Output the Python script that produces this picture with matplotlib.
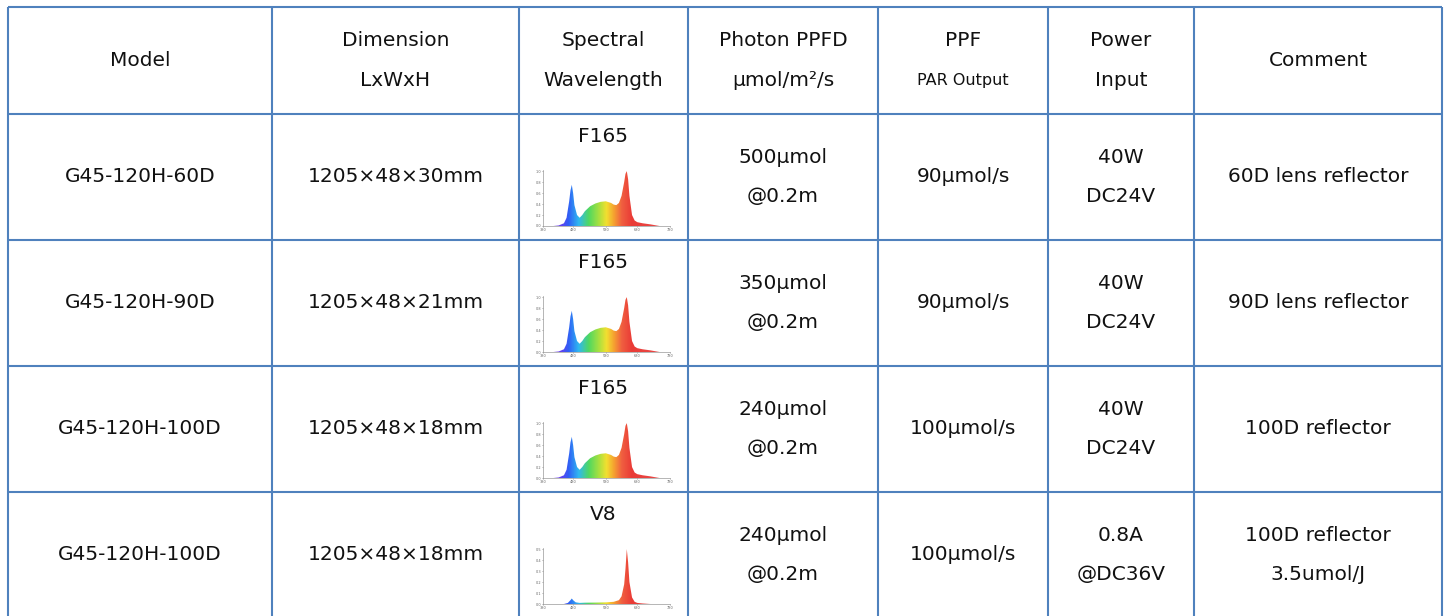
import matplotlib.pyplot as plt
import numpy as np
from matplotlib.colors import LinearSegmentedColormap

# table content
headers = [["Model"], ["Dimension", "LxWxH"], ["Spectral", "Wavelength"],
           ["Photon PPFD", "μmol/m²/s"], ["PPF", "PAR Output"], ["Power", "Input"],
           ["Comment"]]
models = ["G45-120H-60D", "G45-120H-90D", "G45-120H-100D", "G45-120H-100D"]
dimensions = ["1205×48×30mm", "1205×48×21mm", "1205×48×18mm", "1205×48×18mm"]
spectra = ["F165", "F165", "F165", "V8"]
ppfd = [["500μmol", "@0.2m"], ["350μmol", "@0.2m"], ["240μmol", "@0.2m"], ["240μmol", "@0.2m"]]
ppf = ["90μmol/s", "90μmol/s", "100μmol/s", "100μmol/s"]
power = [["40W", "DC24V"], ["40W", "DC24V"], ["40W", "DC24V"], ["0.8A", "@DC36V"]]
comments = [["60D lens reflector"], ["90D lens reflector"], ["100D reflector"],
            ["100D reflector", "3.5umol/J"]]

# spectrum curves read from the small thumbnails
f165_wl = [380, 400, 420, 430, 440, 445, 450, 455, 460, 470, 480, 490, 500, 520, 540,
           560, 580, 600, 610, 620, 630, 640, 650, 655, 660, 665, 670, 680, 690, 700,
           720, 750, 785]
f165_val = [0, 0.01, 0.05, 0.15, 0.45, 0.65, 0.75, 0.6, 0.38, 0.2, 0.15, 0.2, 0.27,
            0.36, 0.41, 0.44, 0.45, 0.42, 0.39, 0.38, 0.42, 0.55, 0.8, 0.95, 1.0, 0.85,
            0.55, 0.2, 0.1, 0.07, 0.05, 0.03, 0]
v8_wl = [380, 420, 435, 445, 450, 455, 465, 480, 500, 540, 580, 610, 630, 640, 650,
         655, 660, 665, 670, 680, 690, 700, 720, 750]
v8_val = [0, 0, 0.01, 0.035, 0.05, 0.035, 0.015, 0.01, 0.012, 0.013, 0.015, 0.02,
          0.035, 0.07, 0.18, 0.32, 0.5, 0.38, 0.2, 0.06, 0.02, 0.01, 0.005, 0]
spec_data = {"F165": (f165_wl, f165_val, 1.0), "V8": (v8_wl, v8_val, 0.5)}

# layout (pixels)
W, H = 1446, 616
col_edges = [8, 272, 519, 688, 878, 1048, 1194, 1442]
row_edges = [7, 114, 240, 366, 492, 618]
line_col = "#4F81BD"
FONT = "DejaVu Sans"
FS = 14.5

fig = plt.figure(figsize=(W / 100, H / 100), dpi=100)
ax = fig.add_axes([0, 0, 1, 1])
ax.set_xlim(0, W)
ax.set_ylim(H, 0)
ax.axis("off")

ax.hlines(row_edges, col_edges[0], col_edges[-1], color=line_col, lw=1.5)
ax.vlines(col_edges, row_edges[0], row_edges[-1], color=line_col, lw=1.5)


def cell_text(ci, ri, lines, sizes=None):
    xc = (col_edges[ci] + col_edges[ci + 1]) / 2
    yc = (row_edges[ri] + row_edges[ri + 1]) / 2
    n = len(lines)
    gap = 39
    for k, s in enumerate(lines):
        y = yc + (k - (n - 1) / 2) * gap
        fs = FS if sizes is None else sizes[k]
        ax.text(xc, y, s, ha="center", va="center", fontsize=fs, family=FONT,
                color="#111111")


for ci, h in enumerate(headers):
    sizes = [FS, 11.5] if h[0] == "PPF" else None
    cell_text(ci, 0, h, sizes)

spec_cmap = LinearSegmentedColormap.from_list("spec", [
    (0.0, "#8a2be2"), (0.14, "#6040f0"), (0.2, "#2f5ff5"), (0.28, "#30b8f0"),
    (0.36, "#50d860"), (0.44, "#a8e040"), (0.5, "#f2e030"), (0.56, "#f5a030"),
    (0.62, "#f06040"), (0.7, "#ea3b36"), (1.0, "#e85050")])
xlo, xhi = 340, 825

for ri in range(4):
    r = ri + 1
    cell_text(0, r, [models[ri]])
    cell_text(1, r, [dimensions[ri]])
    cell_text(3, r, ppfd[ri])
    cell_text(4, r, [ppf[ri]])
    cell_text(5, r, power[ri])
    cell_text(6, r, comments[ri])

    top = row_edges[r]
    xc = (col_edges[2] + col_edges[3]) / 2
    ax.text(xc, top + 22, spectra[ri], ha="center", va="center", fontsize=FS,
            family=FONT, color="#111111")

    wl, val, ymax = spec_data[spectra[ri]]
    x0, x1 = 543, 670
    y0, y1 = top + 56, top + 112
    iax = fig.add_axes([x0 / W, 1 - y1 / H, (x1 - x0) / W, (y1 - y0) / H])
    iax.set_xlim(xlo, xhi)
    iax.set_ylim(0, ymax * 1.02)
    poly = iax.fill_between(wl, val, color="none", lw=0)
    grad = np.linspace(0, 1, 300)[None, :]
    im = iax.imshow(grad, extent=[xlo, xhi, 0, ymax * 1.02], aspect="auto",
                    cmap=spec_cmap, origin="lower")
    im.set_clip_path(poly.get_paths()[0], transform=iax.transData)
    for s in ["top", "right"]:
        iax.spines[s].set_visible(False)
    for s in ["left", "bottom"]:
        iax.spines[s].set_color("#999999")
        iax.spines[s].set_linewidth(0.5)
    iax.set_xticks([340, 455, 580, 700, 825])
    iax.set_xticklabels(["380", "480", "580", "680", "780"])
    iax.set_yticks(np.linspace(0, ymax, 6))
    iax.tick_params(labelsize=2.5, length=1, width=0.4, pad=0.5, colors="#666666")

fig.savefig("out.png", dpi=100)
